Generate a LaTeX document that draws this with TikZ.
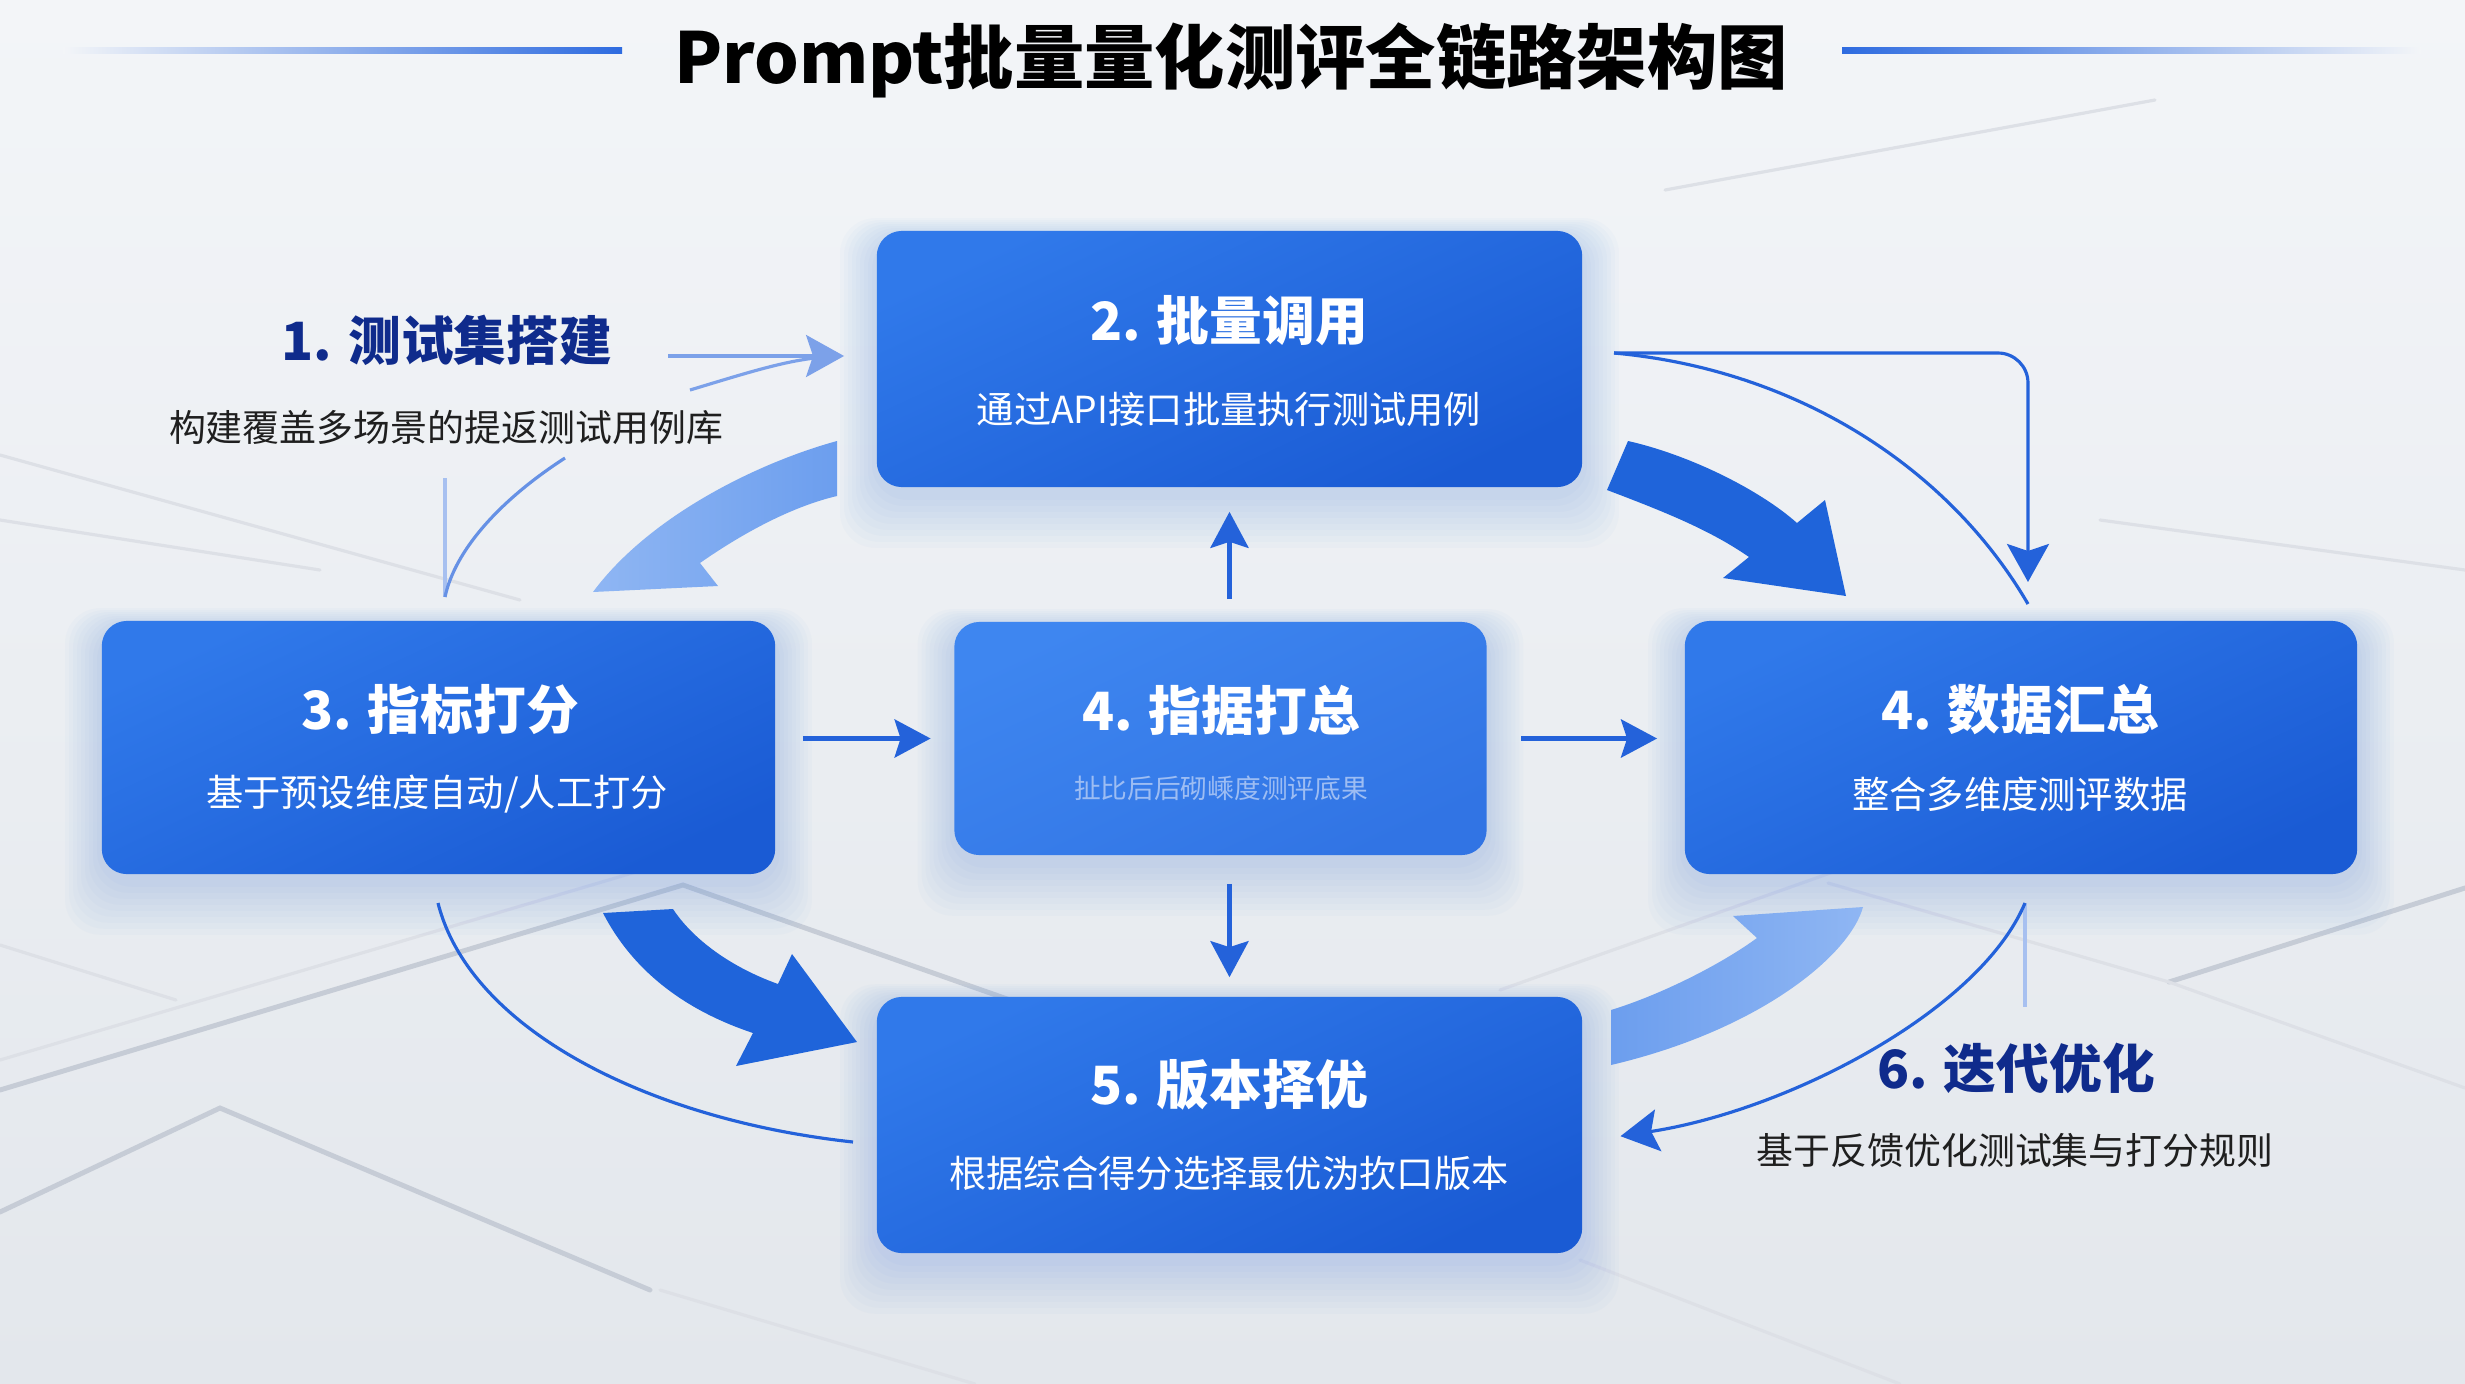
\documentclass[tikz,border=0pt]{standalone}
\usepackage{fontspec}
\setmainfont{Noto Sans CJK SC}
\usetikzlibrary{arrows.meta}
\definecolor{bgA}{HTML}{F3F5F8}
\definecolor{bgB}{HTML}{E3E7EC}
\definecolor{nodeA}{HTML}{3079EA}
\definecolor{nodeB}{HTML}{1A5BD4}
\definecolor{cenA}{HTML}{3E86F0}
\definecolor{cenB}{HTML}{3174E4}
\definecolor{navy}{HTML}{0F2B8C}
\definecolor{lineblue}{HTML}{2462DA}
\definecolor{fatD}{HTML}{1F64DA}
\definecolor{fatLA}{HTML}{8FB6F3}
\definecolor{fatLB}{HTML}{6C9EEE}
\definecolor{glowc}{HTML}{4F86E8}
\definecolor{tile}{HTML}{C6CCD6}
\definecolor{subfade}{HTML}{9DBDF3}
\definecolor{tblue}{HTML}{2E6BE0}
\pgfdeclarelayer{back}
\pgfdeclarelayer{glowl}
\pgfsetlayers{back,glowl,main}
\begin{document}
\begin{tikzpicture}[x=0.01cm,y=-0.01cm,
  box/.style={rounded corners=0.25cm, inner sep=0pt, draw=none, top color=nodeA, bottom color=nodeB, shading angle=25},
  ttl/.style={text=white, font=\fontsize{15}{18}\selectfont\bfseries, inner sep=0pt},
  sub/.style={text=white, font=\fontsize{10.6}{13}\selectfont, inner sep=0pt},
  csub/.style={text=subfade, font=\fontsize{7.6}{9}\selectfont, inner sep=0pt},
  ltitle/.style={text=navy, font=\fontsize{15}{18}\selectfont\bfseries, inner sep=0pt},
  lsub/.style={text=black!88, font=\fontsize{10.5}{13}\selectfont, inner sep=0pt},
  conn/.style={draw=lineblue, line width=0.9pt},
  tip/.style={-{Stealth[length=0.38cm, width=0.42cm, inset=0.07cm]}},
  carr/.style={draw=lineblue, line width=1.4pt, -{Stealth[length=0.36cm, width=0.38cm, inset=0.06cm]}},
  fatdark/.style={fill=fatD},
  fatlight/.style={left color=fatLA, right color=fatLB},
  tileline/.style={draw=tile, line width=1.4pt, line cap=round},
  tilesoft/.style={draw=tile!60, line width=0.9pt, line cap=round},
]
\useasboundingbox (0,0) rectangle (2465,1384);

% ---------- background ----------
\begin{pgfonlayer}{back}
  \shade[top color=bgA, bottom color=bgB] (0,0) rectangle (2465,1384);
  % tile edges
  \draw[tileline] (0,1090) -- (683,885) -- (1010,1000);
  \draw[tilesoft] (0,1060) -- (683,858);
  \draw[tilesoft] (1500,990) -- (1850,866);
  \draw[tileline] (2169,982) -- (2465,888);
  \draw[tilesoft] (2169,982) -- (2465,1088);
  \draw[tilesoft] (1828,883) -- (2169,982);
  \draw[tilesoft] (0,455) -- (520,600);
  \draw[tilesoft] (0,520) -- (320,570);
  \draw[tilesoft] (0,945) -- (176,1000);
  \draw[tileline] (0,1212) -- (220,1108) -- (650,1290);
  \draw[tilesoft] (660,1290) -- (975,1384);
  \draw[tilesoft] (1665,190) -- (2155,100);
  \draw[tilesoft] (2100,520) -- (2465,570);
  \draw[tilesoft] (1580,1260) -- (1900,1384);
  % title rules
  \shade[left color=bgA, right color=tblue] (63,47) rectangle (622,53);
  \shade[left color=tblue, right color=bgA] (1842,47) rectangle (2421,53);
\end{pgfonlayer}

% ---------- title ----------
\node[font=\fontsize{20}{24}\selectfont\bfseries, inner sep=0pt] (title) at (1231,60) {Prompt批量量化测评全链路架构图};

% ---------- boxes ----------
\node[box, minimum width=7.05cm, minimum height=2.56cm] (n2) at (1229.5,359) {};
\node[box, minimum width=6.73cm, minimum height=2.53cm] (n3) at (438.5,747.5) {};
\node[box, top color=cenA, bottom color=cenB, shading angle=25, minimum width=5.32cm, minimum height=2.33cm] (c) at (1220.5,738.5) {};
\node[box, minimum width=6.72cm, minimum height=2.53cm] (n4) at (2021,747.5) {};
\node[box, minimum width=7.05cm, minimum height=2.56cm] (n5) at (1229.5,1125) {};

% glow behind boxes
\begin{pgfonlayer}{glowl}
  \foreach \b in {n2,n3,c,n4,n5}{
    \foreach \k in {1,...,9}{
      \fill[glowc, opacity=0.028, rounded corners=0.35cm]
        ([shift={(-4*\k,-2*\k+6)}]\b.north west) rectangle ([shift={(4*\k,6*\k+6)}]\b.south east);
    }
  }
\end{pgfonlayer}

% ---------- texts ----------
\node[ttl] (n2t) at (1229,321) {2. 批量调用};
\node[sub] (n2s) at (1229,409) {通过API接口批量执行测试用例};
\node[ttl] (n3t) at (440,709) {3. 指标打分};
\node[sub] (n3s) at (437,794) {基于预设维度自动/人工打分};
\node[ttl] (ct) at (1221,710) {4. 指据打总};
\node[csub] (cs) at (1221,788) {扯比后后砌嵊度测评底果};
\node[ttl] (n4t) at (2020,709) {4. 数据汇总};
\node[sub] (n4s) at (2020,794) {整合多维度测评数据};
\node[ttl] (n5t) at (1229,1085) {5. 版本择优};
\node[sub] (n5s) at (1229,1173) {根据综合得分选择最优沩扻口版本};
\node[ltitle] (l1t) at (447,340) {1. 测试集搭建};
\node[lsub] (l1s) at (446,427) {构建覆盖多场景的提返测试用例库};
\node[ltitle] (l6t) at (2016,1068) {6. 迭代优化};
\node[lsub] (l6s) at (2015,1150) {基于反馈优化测试集与打分规则};

% ---------- straight connectors around the centre ----------
\draw[carr, shorten <=0.27cm, shorten >=0.23cm] (n3.east |- c.west) -- (c.west);
\draw[carr, shorten <=0.34cm, shorten >=0.27cm] (c.east) -- (n4.west |- c.east);
\draw[carr, shorten <=0.22cm, shorten >=0.24cm] (n2.south |- c.north) -- (n2.south);
\draw[carr, shorten <=0.28cm, shorten >=0.19cm] (n5.north |- c.south) -- (n5.north);

% ---------- fat arrows ----------
% 2 -> 3 (light)
\path[fatlight] (837,441) .. controls (760,462) and (650,515) .. (593,592)
  -- (718,586) -- (700,563) .. controls (740,535) and (790,507) .. (837,496) -- cycle;
% 2 -> 4 (dark)
\path[fatdark] (1628,441) .. controls (1690,455) and (1760,490) .. (1797,523)
  -- (1825,500) -- (1846,596) -- (1723,578) -- (1749,557)
  .. controls (1710,530) and (1665,512) .. (1607,490) -- cycle;
% 3 -> 5 (dark)
\path[fatdark] (603,913) -- (673,909) .. controls (690,935) and (725,965) .. (778,984)
  -- (792,954) -- (857,1042) -- (736,1066) -- (753,1033)
  .. controls (690,1012) and (635,975) .. (603,913) -- cycle;
% 5 -> 4 (light)
\path[left color=fatLB, right color=fatLA] (1611,1065) -- (1611,1010) .. controls (1660,995) and (1720,965) .. (1757,938)
  -- (1733,916) -- (1863,907) .. controls (1850,955) and (1760,1030) .. (1611,1065) -- cycle;

% ---------- thin connectors ----------
% 1 -> 2
\coordinate (a1) at (668,356);
\coordinate (a2) at (690,390);
\coordinate (a2e) at (815,358);
\draw[conn, draw=lineblue!60, tip, shorten >=0.32cm] (a1) -- (n2.west |- a1);
\draw[conn, draw=lineblue!60] (a2) .. controls (740,375) and (780,362) .. (a2e);
% 1 -> 3
\coordinate (b1) at (445,478);
\coordinate (b2) at (445,597);
\coordinate (b3) at (565,458);
\draw[conn, draw=lineblue!40] (b1) -- (b2);
\draw[conn, draw=lineblue!70] (b3) .. controls (500,500) and (455,550) .. (b2);
% 2 -> 4 elbow and curve
\coordinate (r1) at (1614,353);
\coordinate (r2) at (2028,582);
\coordinate (r3) at (2028,604);
\draw[conn, tip, rounded corners=0.3cm] (r1) -| (r2);
\draw[conn] (r1) .. controls (1800,370) and (1950,470) .. (r3);
% 3 -> 5 curve
\coordinate (s1) at (438,903);
\coordinate (s2) at (853,1142);
\draw[conn] (s1) .. controls (470,1030) and (650,1120) .. (s2);
% 4 -> 5 feedback
\coordinate (t1) at (2025,903);
\coordinate (t2) at (2025,1007);
\draw[conn, draw=lineblue!40] (t1) -- (t2);
\draw[conn, tip, shorten >=0.38cm] (t1) .. controls (1980,1010) and (1790,1110) .. (n5.east |- s2);
\end{tikzpicture}
\end{document}
